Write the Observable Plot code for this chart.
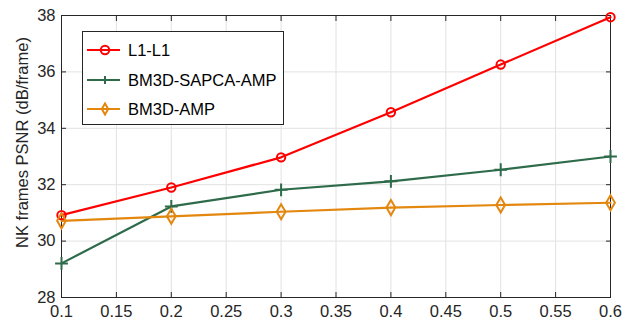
<!DOCTYPE html>
<html>
<head>
<meta charset="utf-8">
<script src="https://cdn.jsdelivr.net/npm/d3@7"></script>
<script src="https://cdn.jsdelivr.net/npm/@observablehq/plot@0.6"></script>
<style>
  html, body { margin: 0; padding: 0; background: #fff; }
  #wrap { position: relative; width: 637px; height: 325px; font-family: "Liberation Sans", Arial, sans-serif; }
  #legend { position: absolute; left: 82px; top: 31px; width: 202px; height: 94px; border: 1px solid #262626; background: #fff; box-sizing: border-box; }
  .item { position: absolute; left: 0; height: 20px; display: flex; align-items: center; font-size: 16.5px; color: #000; }
  .item svg { margin-left: 3px; margin-right: 8px; }
</style>
</head>
<body>
<div id="wrap"></div>
<script>
const xs = [0.1, 0.2, 0.3, 0.4, 0.5, 0.6];
const seriesNames = ["L1-L1", "BM3D-SAPCA-AMP", "BM3D-AMP"];
const l1l1 = [30.92, 31.9, 32.97, 34.57, 36.26, 37.94];
const sapca = [29.21, 31.23, 31.82, 32.12, 32.53, 33.0];
const bm3d = [30.72, 30.88, 31.04, 31.19, 31.28, 31.36];
const colors = ["#ff0000", "#2e6b4b", "#e3870e"];
const symbols = ["circle", "plus", "diamond"];
const xTicks = [0.1, 0.15, 0.2, 0.25, 0.3, 0.35, 0.4, 0.45, 0.5, 0.55, 0.6];
const yTicks = [28, 30, 32, 34, 36, 38];

const values = [l1l1, sapca, bm3d];
const data = [];
seriesNames.forEach((s, i) => xs.forEach((x, j) => data.push({series: s, x, y: values[i][j]})));

const colorScale = {domain: seriesNames, range: colors};
const symbolScale = {domain: seriesNames, range: symbols};

const fmt = d => String(d);

const chart = Plot.plot({
  width: 637,
  height: 325,
  marginLeft: 61,
  marginRight: 27,
  marginTop: 15,
  marginBottom: 28,
  style: {fontFamily: "'Liberation Sans', Arial, sans-serif", fontSize: "16.5px", color: "#262626", background: "#fff"},
  x: {domain: [0.1, 0.6]},
  y: {domain: [28, 38]},
  color: colorScale,
  symbol: symbolScale,
  marks: [
    Plot.gridX(xTicks, {stroke: "#e2e2e2", strokeOpacity: 1}),
    Plot.gridY(yTicks, {stroke: "#e2e2e2", strokeOpacity: 1}),
    Plot.frame({stroke: "#262626", strokeWidth: 1}),
    Plot.axisX(xTicks, {anchor: "bottom", tickSize: -5, tickPadding: 13, tickFormat: fmt, label: null, stroke: "#262626", fill: "#262626", fontSize: 16.5}),
    Plot.axisX(xTicks, {anchor: "top", tickSize: -5, tickFormat: () => "", label: null, stroke: "#262626"}),
    Plot.axisY(yTicks, {anchor: "left", tickSize: -5, tickPadding: 11, tickFormat: fmt, label: null, stroke: "#262626", fill: "#262626", fontSize: 16.5}),
    Plot.axisY(yTicks, {anchor: "right", tickSize: -5, tickFormat: () => "", label: null, stroke: "#262626"}),
    Plot.text(["NK frames PSNR (dB/frame)"], {frameAnchor: "left", textAnchor: "middle", rotate: -90, dx: -39, dy: -14, fontSize: 16.5, fill: "#262626"}),
    Plot.line(data, {x: "x", y: "y", stroke: "series", strokeWidth: 2.2}),
    Plot.dot(data.filter(d => d.series !== "BM3D-AMP"), {x: "x", y: "y", stroke: "series", symbol: "series", r: 4.2, strokeWidth: 2, fill: "none"}),
    Plot.dot(data.filter(d => d.series === "BM3D-AMP"), {x: "x", y: "y", stroke: "series", symbol: "series", r: 4.6, strokeWidth: 2, fill: "none"})
  ]
});

const wrap = document.getElementById("wrap");
wrap.appendChild(chart);

// legend
const legend = document.createElement("div");
legend.id = "legend";
const sym = {
  circle: c => `<circle cx="19" cy="10" r="4.2" fill="none" stroke="${c}" stroke-width="2"/>`,
  plus: c => `<path d="M19,6V14M15,10H23" stroke="${c}" stroke-width="2"/>`,
  diamond: c => `<path d="M19,4.5L22.2,10L19,15.5L15.8,10Z" fill="none" stroke="${c}" stroke-width="2"/>`
};
const tops = [8, 38, 67];
seriesNames.forEach((s, i) => {
  const it = document.createElement("div");
  it.className = "item";
  it.style.top = tops[i] + "px";
  it.innerHTML = `<svg width="34" height="20"><line x1="1" x2="37" y1="10" y2="10" stroke="${colors[i]}" stroke-width="2.2"/>${sym[symbols[i]](colors[i])}</svg><span>${s}</span>`;
  legend.appendChild(it);
});
wrap.appendChild(legend);
</script>
</body>
</html>
